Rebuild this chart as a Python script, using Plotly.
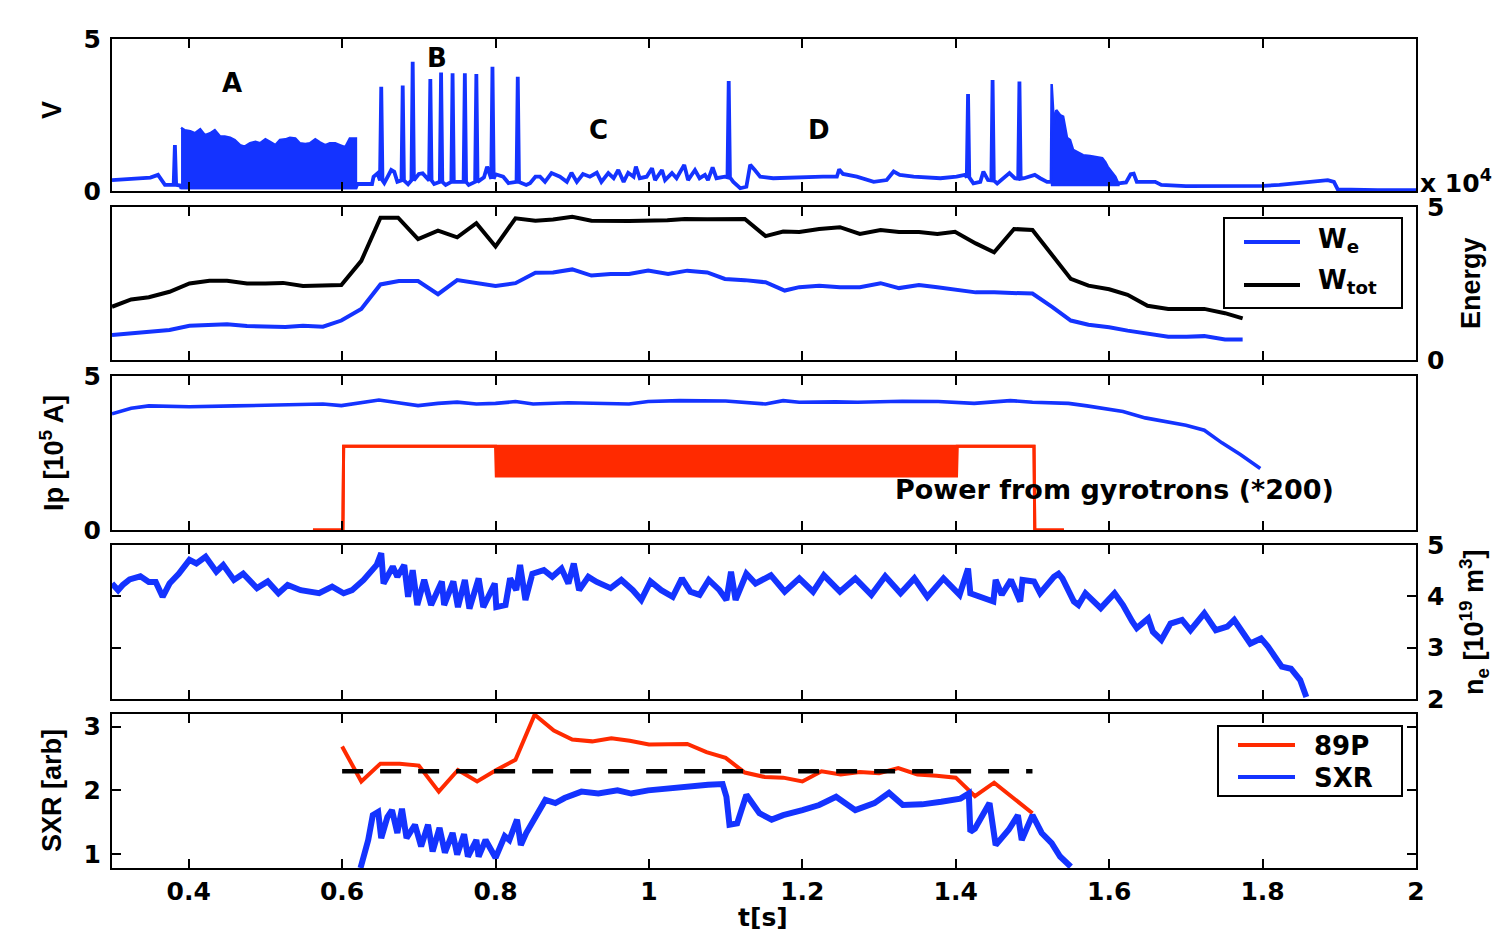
import plotly.graph_objects as go

# ---------------- Panel 1 : V ----------------
v_base_t = [0.300, 0.328, 0.350, 0.360, 0.365, 0.369, 0.389, 0.390, 0.618,
            0.620, 0.639, 0.641, 0.646, 0.655, 0.664, 0.668, 0.672, 0.686, 0.700, 0.705,
            0.720, 0.735, 0.765, 0.785, 0.789, 0.800, 0.810, 0.817, 0.840, 0.845, 0.852,
            0.858, 0.8645, 0.873, 0.884, 0.893, 0.899, 0.906, 0.914, 0.923, 0.932, 0.938,
            0.947, 0.954, 0.960, 0.967, 0.973, 0.980, 0.983, 0.988, 0.997, 1.004, 1.008,
            1.017, 1.021, 1.030, 1.036, 1.046, 1.051, 1.060, 1.066, 1.073, 1.077, 1.083,
            1.088, 1.099, 1.110, 1.119, 1.127, 1.132, 1.138, 1.145, 1.162, 1.206, 1.227,
            1.245, 1.248, 1.253, 1.271, 1.293, 1.310, 1.319, 1.327, 1.345, 1.380, 1.401,
            1.412, 1.423, 1.432, 1.436, 1.442, 1.454, 1.463, 1.470, 1.477, 1.489, 1.496,
            1.503, 1.510, 1.519, 1.524, 1.612, 1.622, 1.628, 1.632, 1.636, 1.660, 1.668,
            1.700, 1.760, 1.800, 1.822, 1.850, 1.875, 1.885, 1.893, 1.898, 1.950, 2.000]
v_base_v = [0.36, 0.40, 0.44, 0.53, 0.36, 0.20, 0.18, 0.12, 0.12,
            0.23, 0.23, 0.47, 0.58, 0.26, 0.69, 0.63, 0.30, 0.22, 0.56, 0.58,
            0.23, 0.20, 0.20, 0.45, 0.80, 0.55, 0.47, 0.26, 0.20, 0.26, 0.47,
            0.47, 0.30, 0.59, 0.47, 0.30, 0.60, 0.30, 0.56, 0.47, 0.60, 0.30,
            0.59, 0.42, 0.69, 0.30, 0.60, 0.47, 0.80, 0.42, 0.47, 0.75, 0.36,
            0.69, 0.36, 0.59, 0.42, 0.86, 0.36, 0.69, 0.42, 0.53, 0.36, 0.78,
            0.42, 0.47, 0.30, 0.09, 0.14, 0.86, 0.69, 0.47, 0.42, 0.47, 0.47,
            0.47, 0.71, 0.56, 0.47, 0.30, 0.36, 0.64, 0.53, 0.47, 0.42, 0.47,
            0.53, 0.25, 0.30, 0.64, 0.36, 0.25, 0.42, 0.59, 0.42, 0.42, 0.47,
            0.53, 0.42, 0.30, 0.30, 0.25, 0.28, 0.55, 0.57, 0.30, 0.30, 0.20,
            0.16, 0.15, 0.17, 0.20, 0.27, 0.35, 0.36, 0.30, 0.05, 0.03, 0.03]
v_spike_t = [0.382, 0.651, 0.679, 0.692, 0.715, 0.729, 0.744, 0.760, 0.775, 0.796, 0.829,
             1.104, 1.416, 1.448, 1.483]
v_spike_peak = [1.51, 3.43, 3.47, 4.25, 3.68, 3.90, 3.87, 3.87, 3.85, 4.09, 3.76,
                3.62, 3.19, 3.65, 3.60]
v_spike_foot = [0.20, 0.35, 0.35, 0.35, 0.35, 0.30, 0.30, 0.30, 0.30, 0.40, 0.30,
                0.45, 0.45, 0.35, 0.40]
# burst A (dense oscillation) : envelope of peaks + floor
burstA_t = [0.390, 0.395, 0.402, 0.408, 0.415, 0.421, 0.428, 0.434, 0.441, 0.447, 0.454,
            0.460, 0.467, 0.473, 0.480, 0.487, 0.493, 0.500, 0.506, 0.513, 0.519, 0.526,
            0.532, 0.539, 0.545, 0.552, 0.558, 0.565, 0.571, 0.578, 0.584, 0.591, 0.597,
            0.604, 0.610, 0.615, 0.618]
burstA_top = [2.08, 2.00, 1.97, 1.90, 2.03, 1.84, 1.90, 2.00, 1.79, 1.79, 1.75,
              1.68, 1.51, 1.46, 1.57, 1.62, 1.57, 1.70, 1.62, 1.51, 1.68, 1.70,
              1.75, 1.73, 1.57, 1.55, 1.57, 1.70, 1.60, 1.51, 1.57, 1.57, 1.51,
              1.44, 1.73, 1.73, 1.73]
burstA_floor = 0.10
# burst at end of ECRH
burstE_t = [1.524, 1.525, 1.528, 1.531, 1.536, 1.540, 1.545, 1.549, 1.553, 1.560, 1.566,
            1.575, 1.582, 1.591, 1.595, 1.598, 1.604, 1.608, 1.612]
burstE_top = [0.30, 3.52, 2.20, 2.66, 2.50, 2.45, 1.75, 1.68, 1.35, 1.25, 1.18,
              1.15, 1.12, 1.08, 0.95, 0.80, 0.60, 0.47, 0.25]
burstE_floor = 0.20

# ---------------- Panel 2 : Energy (x 1e4) ----------------
wtot_t = [0.300, 0.325, 0.348, 0.375, 0.401, 0.427, 0.450, 0.476, 0.500, 0.523, 0.549,
          0.575, 0.599, 0.625, 0.650, 0.673, 0.699, 0.725, 0.750, 0.775, 0.800, 0.826,
          0.852, 0.875, 0.900, 0.925, 0.974, 1.024, 1.047, 1.076, 1.125, 1.152, 1.175,
          1.196, 1.222, 1.249, 1.275, 1.302, 1.326, 1.352, 1.376, 1.399, 1.426, 1.450,
          1.476, 1.500, 1.526, 1.550, 1.573, 1.600, 1.624, 1.650, 1.677, 1.701, 1.724,
          1.751, 1.774]
wtot_v = [1.74, 1.98, 2.05, 2.23, 2.50, 2.59, 2.59, 2.50, 2.50, 2.52, 2.42,
          2.45, 2.45, 3.24, 4.65, 4.65, 3.95, 4.23, 4.01, 4.47, 3.71, 4.63,
          4.55, 4.59, 4.68, 4.55, 4.54, 4.57, 4.61, 4.60, 4.61, 4.05, 4.20,
          4.18, 4.28, 4.34, 4.12, 4.25, 4.18, 4.18, 4.12, 4.19, 3.81, 3.52,
          4.28, 4.25, 3.43, 2.65, 2.43, 2.31, 2.13, 1.77, 1.67, 1.67, 1.67,
          1.53, 1.36]
we_t = [0.300, 0.325, 0.348, 0.375, 0.401, 0.450, 0.476, 0.500, 0.526, 0.549, 0.575,
        0.599, 0.625, 0.650, 0.674, 0.699, 0.725, 0.750, 0.775, 0.800, 0.826, 0.852,
        0.875, 0.900, 0.925, 0.950, 0.974, 0.999, 1.025, 1.050, 1.076, 1.099, 1.125,
        1.152, 1.177, 1.196, 1.222, 1.249, 1.275, 1.302, 1.326, 1.352, 1.376, 1.399,
        1.426, 1.450, 1.476, 1.500, 1.526, 1.550, 1.573, 1.600, 1.624, 1.650, 1.677,
        1.701, 1.724, 1.751, 1.774]
we_v = [0.82, 0.87, 0.93, 0.98, 1.12, 1.17, 1.11, 1.11, 1.08, 1.12, 1.09,
        1.29, 1.67, 2.47, 2.58, 2.58, 2.15, 2.61, 2.53, 2.42, 2.51, 2.85,
        2.86, 2.96, 2.76, 2.81, 2.81, 2.92, 2.81, 2.92, 2.86, 2.65, 2.61,
        2.54, 2.27, 2.38, 2.43, 2.38, 2.38, 2.51, 2.35, 2.45, 2.38, 2.30,
        2.21, 2.21, 2.20, 2.17, 1.73, 1.29, 1.15, 1.07, 0.96, 0.85, 0.76,
        0.76, 0.78, 0.67, 0.67]

# ---------------- Panel 3 : Ip (x 1e5) and gyrotron power ----------------
ip_t = [0.300, 0.325, 0.348, 0.401, 0.460, 0.517, 0.575, 0.599, 0.622, 0.648, 0.673,
        0.699, 0.725, 0.750, 0.775, 0.800, 0.826, 0.849, 0.895, 0.924, 0.974, 0.999,
        1.040, 1.100, 1.152, 1.175, 1.196, 1.243, 1.272, 1.330, 1.377, 1.424, 1.471,
        1.500, 1.547, 1.571, 1.594, 1.618, 1.647, 1.670, 1.700, 1.724, 1.747, 1.771,
        1.797]
ip_v = [3.77, 3.95, 4.03, 4.00, 4.03, 4.06, 4.09, 4.04, 4.13, 4.22, 4.13,
        4.04, 4.11, 4.15, 4.09, 4.11, 4.17, 4.09, 4.13, 4.11, 4.09, 4.17,
        4.20, 4.19, 4.09, 4.20, 4.15, 4.16, 4.15, 4.18, 4.17, 4.11, 4.20,
        4.15, 4.11, 4.03, 3.95, 3.85, 3.64, 3.53, 3.40, 3.24, 2.83, 2.45,
        2.00]
gyro_t = [0.562, 0.601, 0.602, 0.800, 0.801, 1.401, 1.402, 1.502, 1.503, 1.541]
gyro_hi = [0.0, 0.0, 2.72, 2.72, 2.72, 2.72, 2.72, 2.72, 0.0, 0.0]
gyro_lo = [0.0, 0.0, 2.72, 2.72, 1.75, 1.75, 2.72, 2.72, 0.0, 0.0]

# ---------------- Panel 4 : n_e (1e19 m^-3) ----------------
ne_t = [0.300, 0.308, 0.314, 0.323, 0.337, 0.348, 0.357, 0.366, 0.375, 0.387, 0.401,
        0.410, 0.422, 0.436, 0.445, 0.459, 0.471, 0.489, 0.503, 0.517, 0.529, 0.546,
        0.570, 0.587, 0.602, 0.613, 0.628, 0.639, 0.645, 0.651, 0.654, 0.666, 0.672,
        0.681, 0.686, 0.692, 0.698, 0.707, 0.716, 0.730, 0.733, 0.745, 0.751, 0.760,
        0.766, 0.778, 0.784, 0.799, 0.801, 0.813, 0.819, 0.827, 0.832, 0.839, 0.848,
        0.863, 0.874, 0.886, 0.895, 0.902, 0.909, 0.921, 0.932, 0.950, 0.964, 0.979,
        0.990, 1.002, 1.016, 1.031, 1.043, 1.054, 1.066, 1.078, 1.092, 1.101, 1.107,
        1.113, 1.127, 1.139, 1.159, 1.177, 1.196, 1.214, 1.228, 1.249, 1.269, 1.290,
        1.308, 1.328, 1.346, 1.363, 1.384, 1.405, 1.416, 1.419, 1.437, 1.449, 1.452,
        1.460, 1.472, 1.484, 1.487, 1.502, 1.510, 1.528, 1.534, 1.539, 1.554, 1.560,
        1.569, 1.578, 1.589, 1.607, 1.618, 1.630, 1.636, 1.651, 1.657, 1.668, 1.680,
        1.695, 1.706, 1.724, 1.739, 1.754, 1.763, 1.784, 1.798, 1.807, 1.825, 1.837,
        1.849, 1.857]
ne_v = [4.25, 4.12, 4.22, 4.33, 4.39, 4.28, 4.28, 3.99, 4.25, 4.44, 4.71,
        4.64, 4.77, 4.48, 4.61, 4.32, 4.44, 4.16, 4.29, 4.06, 4.22, 4.12,
        4.06, 4.19, 4.06, 4.12, 4.32, 4.51, 4.61, 4.84, 4.25, 4.58, 4.38,
        4.61, 3.99, 4.51, 3.83, 4.32, 3.83, 4.29, 3.83, 4.29, 3.79, 4.32,
        3.76, 4.35, 3.79, 4.25, 3.79, 3.83, 4.35, 4.12, 4.61, 3.93, 4.44,
        4.51, 4.38, 4.54, 4.25, 4.64, 4.12, 4.38, 4.28, 4.16, 4.32, 4.12,
        3.93, 4.29, 4.12, 3.99, 4.35, 4.09, 4.03, 4.32, 4.12, 3.93, 4.48,
        3.93, 4.44, 4.25, 4.41, 4.09, 4.35, 4.09, 4.41, 4.09, 4.35, 4.03,
        4.39, 4.06, 4.35, 3.99, 4.35, 4.03, 4.54, 4.06, 3.96, 3.90, 4.32,
        4.03, 4.32, 3.90, 4.32, 4.29, 4.06, 4.38, 4.44, 4.35, 3.90, 3.83,
        4.06, 3.93, 3.77, 4.06, 3.83, 3.51, 3.38, 3.57, 3.31, 3.15, 3.47,
        3.54, 3.34, 3.67, 3.34, 3.41, 3.54, 3.08, 3.18, 3.02, 2.63, 2.59,
        2.37, 2.04]

# ---------------- Panel 5 : SXR / 89P ----------------
p89_t = [0.600, 0.625, 0.650, 0.675, 0.700, 0.726, 0.751, 0.776, 0.801, 0.826, 0.851,
         0.876, 0.900, 0.926, 0.951, 0.975, 1.000, 1.025, 1.050, 1.075, 1.100, 1.125,
         1.151, 1.175, 1.200, 1.225, 1.250, 1.275, 1.300, 1.325, 1.350, 1.375, 1.400,
         1.425, 1.450, 1.500]
p89_v = [2.69, 2.14, 2.42, 2.42, 2.39, 1.98, 2.32, 2.14, 2.32, 2.48, 3.19,
         2.94, 2.80, 2.77, 2.82, 2.78, 2.72, 2.72, 2.73, 2.60, 2.51, 2.28,
         2.21, 2.20, 2.14, 2.30, 2.25, 2.29, 2.27, 2.35, 2.25, 2.23, 2.20,
         1.91, 2.12, 1.64]
sxr_t = [0.624, 0.634, 0.640, 0.647, 0.651, 0.659, 0.665, 0.672, 0.678, 0.684, 0.695,
         0.703, 0.712, 0.718, 0.727, 0.734, 0.744, 0.750, 0.759, 0.764, 0.775, 0.778,
         0.787, 0.800, 0.812, 0.818, 0.828, 0.833, 0.840, 0.865, 0.878, 0.890, 0.912,
         0.934, 0.959, 0.977, 0.999, 1.027, 1.059, 1.077, 1.096, 1.101, 1.105, 1.115,
         1.127, 1.132, 1.144, 1.160, 1.175, 1.200, 1.222, 1.244, 1.269, 1.294, 1.313,
         1.331, 1.356, 1.381, 1.406, 1.417, 1.419, 1.425, 1.444, 1.452, 1.469, 1.481,
         1.486, 1.500, 1.512, 1.525, 1.536, 1.550]
sxr_v = [0.78, 1.22, 1.61, 1.66, 1.25, 1.58, 1.69, 1.33, 1.71, 1.25, 1.46,
         1.12, 1.46, 1.04, 1.41, 1.02, 1.33, 0.99, 1.31, 0.96, 1.22, 0.96,
         1.22, 0.94, 1.28, 1.22, 1.54, 1.14, 1.33, 1.85, 1.80, 1.88, 1.98,
         1.95, 2.00, 1.95, 2.00, 2.04, 2.07, 2.09, 2.10, 1.90, 1.46, 1.48,
         1.93, 1.85, 1.64, 1.54, 1.61, 1.69, 1.77, 1.90, 1.69, 1.80, 1.96,
         1.77, 1.78, 1.82, 1.87, 1.95, 1.35, 1.40, 1.80, 1.14, 1.38, 1.61,
         1.22, 1.61, 1.33, 1.17, 0.96, 0.80]
thr_t = [0.600, 1.500]
thr_v = [2.30, 2.30]

# ---------------- text ----------------
x_ticks = [0.4, 0.6, 0.8, 1.0, 1.2, 1.4, 1.6, 1.8, 2.0]
x_ticklabels = ["0.4", "0.6", "0.8", "1", "1.2", "1.4", "1.6", "1.8", "2"]
phase_labels = ["A", "B", "C", "D"]
legend1_labels = ["W<sub>e</sub>", "W<sub>tot</sub>"]
legend2_labels = ["89P", "SXR"]

BLUE = "#1433ff"
RED = "#ff2a00"
FONT = "DejaVu Sans, sans-serif"
VFONT = "Liberation Sans, Arial, sans-serif"

W, H = 1500, 933
OFF = 8  # page body margin of the html page
ML, MR, MT, MB = 112 - OFF, 1500 - 1416 + OFF, 39 - OFF, 933 - 868 + OFF
PW, PH = W - ML - MR, H - MT - MB


def pxx(x):
    return (x - OFF - ML) / PW


def pxy(y):
    return (H - MB - (y - OFF)) / PH


# build V trace from base + spikes
pts = list(zip(v_base_t, v_base_v))
for t, pk, ft in zip(v_spike_t, v_spike_peak, v_spike_foot):
    pts += [(t - 0.0016, ft), (t, pk), (t + 0.0016, ft)]
pts.sort(key=lambda p: p[0])
v_t = [p[0] for p in pts]
v_v = [p[1] for p in pts]

fig = go.Figure()

# Panel 1
fig.add_trace(go.Scatter(x=burstA_t + burstA_t[::-1], y=burstA_top + [burstA_floor] * len(burstA_t),
                         fill="toself", fillcolor=BLUE, mode="lines", line=dict(color=BLUE, width=2.5),
                         xaxis="x", yaxis="y", showlegend=False, hoverinfo="skip"))
fig.add_trace(go.Scatter(x=burstE_t + burstE_t[::-1], y=burstE_top + [burstE_floor] * len(burstE_t),
                         fill="toself", fillcolor=BLUE, mode="lines", line=dict(color=BLUE, width=2.5),
                         xaxis="x", yaxis="y", showlegend=False, hoverinfo="skip"))
fig.add_trace(go.Scatter(x=v_t, y=v_v, mode="lines", line=dict(color=BLUE, width=3.8),
                         xaxis="x", yaxis="y", showlegend=False, name="V"))

# Panel 2
fig.add_trace(go.Scatter(x=we_t, y=we_v, mode="lines", line=dict(color=BLUE, width=4),
                         xaxis="x2", yaxis="y2", showlegend=False, name="We"))
fig.add_trace(go.Scatter(x=wtot_t, y=wtot_v, mode="lines", line=dict(color="black", width=4),
                         xaxis="x2", yaxis="y2", showlegend=False, name="Wtot"))

# Panel 3
fig.add_trace(go.Scatter(x=ip_t, y=ip_v, mode="lines", line=dict(color=BLUE, width=3.6),
                         xaxis="x3", yaxis="y3", showlegend=False, name="Ip"))
fig.add_trace(go.Scatter(x=gyro_t, y=gyro_lo, mode="lines", line=dict(color=RED, width=3),
                         xaxis="x3", yaxis="y3", showlegend=False, hoverinfo="skip"))
fig.add_trace(go.Scatter(x=gyro_t, y=gyro_hi, mode="lines", line=dict(color=RED, width=3),
                         fill="tonexty", fillcolor=RED,
                         xaxis="x3", yaxis="y3", showlegend=False, name="Power"))

# Panel 4
fig.add_trace(go.Scatter(x=ne_t, y=ne_v, mode="lines", line=dict(color=BLUE, width=6),
                         xaxis="x4", yaxis="y4", showlegend=False, name="ne"))

# Panel 5
fig.add_trace(go.Scatter(x=p89_t, y=p89_v, mode="lines", line=dict(color=RED, width=4),
                         xaxis="x5", yaxis="y5", showlegend=False, name="89P"))
fig.add_trace(go.Scatter(x=sxr_t, y=sxr_v, mode="lines", line=dict(color=BLUE, width=6),
                         xaxis="x5", yaxis="y5", showlegend=False, name="SXR"))
fig.add_trace(go.Scatter(x=thr_t, y=thr_v, mode="lines",
                         line=dict(color="black", width=4.5, dash="21px,17px"),
                         xaxis="x5", yaxis="y5", showlegend=False))

tickfont = dict(family=FONT, size=25, color="black", weight="bold")

# panel rows (pixel rows in the picture)
rows = [(39, 191), (207, 360), (376, 530), (545, 699), (714, 868)]
yranges = [[0, 5], [0, 5], [0, 5], [2, 5], [0.78, 3.2]]
yticks = [[0, 5], [0, 5], [0, 5], [2, 3, 4, 5], [1, 2, 3]]
ysides = ["left", "right", "left", "right", "left"]

layout = dict(width=W, height=H, margin=dict(l=ML, r=MR, t=MT, b=MB),
              paper_bgcolor="white", plot_bgcolor="white", showlegend=False,
              font=dict(family=FONT, size=25, color="black", weight="bold"))

for i in range(5):
    sfx = "" if i == 0 else str(i + 1)
    top, bot = rows[i]
    layout["xaxis" + sfx] = dict(
        domain=[0, 1], range=[0.3, 2.0], anchor="y" + sfx,
        tickvals=x_ticks, ticktext=x_ticklabels, showticklabels=(i == 4),
        ticks="inside", ticklen=9, tickwidth=1.5, tickcolor="black",
        showline=True, linecolor="black", linewidth=2, mirror="ticks",
        showgrid=False, zeroline=False, tickfont=tickfont, ticklabelstandoff=0)
    layout["yaxis" + sfx] = dict(
        domain=[pxy(bot), pxy(top)], range=yranges[i], anchor="x" + sfx, side=ysides[i],
        tickvals=yticks[i], ticks="inside", ticklen=9, tickwidth=1.5, tickcolor="black",
        showline=True, linecolor="black", linewidth=2, mirror="ticks",
        showgrid=False, zeroline=False, tickfont=tickfont, ticklabelstandoff=4)

fig.update_layout(**layout)


def ann(text, x, y, size=25, angle=0, xanchor="center", yanchor="middle", family=FONT):
    fig.add_annotation(text=text, x=pxx(x), y=pxy(y), xref="paper", yref="paper",
                       showarrow=False, textangle=angle, xanchor=xanchor, yanchor=yanchor,
                       font=dict(family=family, size=size, color="black", weight="bold"))


def legend_box(x0, y0, x1, y1, entries):
    fig.add_shape(type="rect", xref="paper", yref="paper",
                  x0=pxx(x0), x1=pxx(x1), y0=pxy(y1), y1=pxy(y0),
                  line=dict(color="black", width=2), fillcolor="white", layer="above")
    for (lx0, lx1, ly, color, text, tx, ty) in entries:
        fig.add_shape(type="line", xref="paper", yref="paper",
                      x0=pxx(lx0), x1=pxx(lx1), y0=pxy(ly), y1=pxy(ly),
                      line=dict(color=color, width=4), layer="above")
        ann(text, tx, ty, size=26, xanchor="left")


legend_box(1224, 218, 1402, 308, [
    (1244, 1300, 242, BLUE, legend1_labels[0], 1316, 240),
    (1244, 1300, 285, "black", legend1_labels[1], 1316, 281),
])
legend_box(1218, 726, 1402, 796, [
    (1238, 1295, 745, RED, legend2_labels[0], 1312, 746),
    (1238, 1295, 777, BLUE, legend2_labels[1], 1312, 778),
])

# phase labels
for lab, (ax, ay) in zip(phase_labels, [(232, 83), (437, 58), (598, 130), (819, 130)]):
    ann(lab, ax, ay, size=26)

ann("x 10<sup>4</sup>", 1456, 181, size=25)
ann("V", 52, 110, size=27, angle=-90, family=VFONT)
ann("Energy", 1471, 283, size=27, angle=-90, family=VFONT)
ann("Ip [10<sup>5</sup> A]", 52, 453, size=27, angle=-90, family=VFONT)
ann("Power from gyrotrons (*200)", 1114, 489, size=27)
ann("n<sub>e</sub> [10<sup>19</sup> m<sup>3</sup>]", 1474, 622, size=27, angle=-90, family=VFONT)
ann("SXR [arb]", 52, 791, size=27, angle=-90, family=VFONT)
ann("t[s]", 763, 917, size=25)

fig.write_html("out.html")
